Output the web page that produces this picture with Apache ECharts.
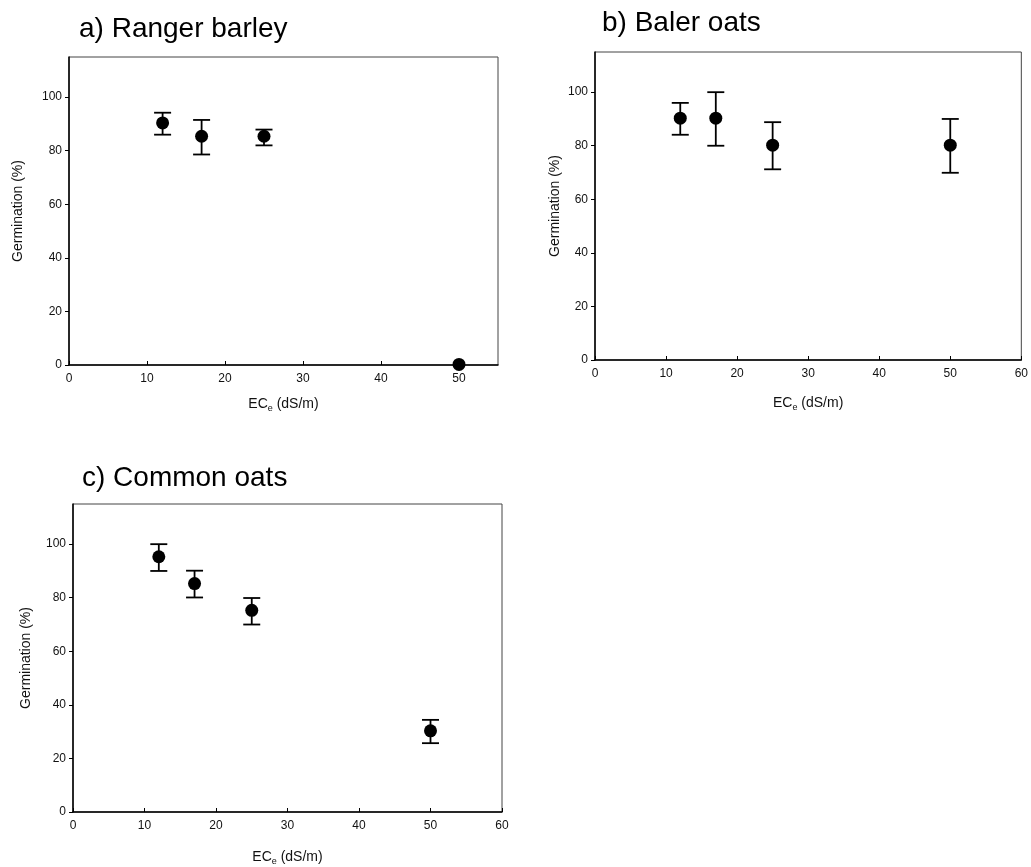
<!DOCTYPE html>
<html>
<head>
<meta charset="utf-8">
<script src="https://cdn.jsdelivr.net/npm/echarts@6/dist/echarts.min.js"></script>
<style>
  html, body { margin: 0; padding: 0; background: #fff; }
  #main { width: 1031px; height: 867px; }
</style>
</head>
<body>
<div id="main"></div>
<script>
// EC_e levels (dS/m)
const ecLevels = [12, 17, 25, 50];

// a) Ranger barley
const barleyMean = [90.4, 85.4, 85.4, 0.2];
const barleyLow = [86.0, 78.6, 82.0, null];
const barleyHigh = [94.2, 91.5, 87.9, null];

// b) Baler oats
const balerMean = [90.3, 90.3, 80.2, 80.2];
const balerLow = [84.1, 80.0, 71.2, 69.9];
const balerHigh = [96.0, 100.0, 88.8, 90.0];

// c) Common oats
const commonMean = [95.3, 85.3, 75.3, 30.3];
const commonLow = [90.0, 80.1, 70.0, 25.7];
const commonHigh = [100.0, 90.1, 79.9, 34.4];

const yTicks = [0, 20, 40, 60, 80, 100];
const xTicksA = [0, 10, 20, 30, 40, 50];
const xTicksBC = [0, 10, 20, 30, 40, 50, 60];

const panels = [
    { title: 'a) Ranger barley', mean: barleyMean, low: barleyLow, high: barleyHigh, xMax: 55, xTicks: xTicksA,
      grid: { left: 69, top: 57, width: 429, height: 308 }, titlePos: { left: 74, top: 10 }, yGap: 44, xGap: 30 },
    { title: 'b) Baler oats', mean: balerMean, low: balerLow, high: balerHigh, xMax: 60, xTicks: xTicksBC,
      grid: { left: 595, top: 52, width: 428, height: 308 }, titlePos: { left: 597, top: 4 }, yGap: 33, xGap: 34 },
    { title: 'c) Common oats', mean: commonMean, low: commonLow, high: commonHigh, xMax: 60, xTicks: xTicksBC,
      grid: { left: 73, top: 504, width: 429, height: 308 }, titlePos: { left: 77, top: 459 }, yGap: 40, xGap: 36 }
];

const chart = echarts.init(document.getElementById('main'));

const option = {
    backgroundColor: '#fff',
    animation: false,
    title: [],
    grid: [],
    xAxis: [],
    yAxis: [],
    series: []
};

panels.forEach(function (p, i) {
    option.title.push({
        text: p.title,
        left: p.titlePos.left,
        top: p.titlePos.top,
        textStyle: { fontFamily: 'Liberation Sans', fontSize: 28, fontWeight: 'normal', color: '#000' }
    });
    option.grid.push(Object.assign({
        show: true, borderColor: '#444', borderWidth: 1, backgroundColor: '#fff'
    }, p.grid));
    option.xAxis.push({
        gridIndex: i,
        type: 'value',
        min: 0,
        max: p.xMax,
        name: '{n|EC}{s|e}{n| (dS/m)}',
        nameLocation: 'middle',
        nameGap: p.xGap,
        nameTextStyle: {
            rich: {
                n: { fontFamily: 'Liberation Sans', fontSize: 14, color: '#111' },
                s: { fontFamily: 'Liberation Sans', fontSize: 9, color: '#111', verticalAlign: 'bottom', padding: [9, 0, 0, 0] }
            }
        },
        splitLine: { show: false },
        axisLine: { onZero: false, lineStyle: { color: '#000', width: 1.5 } },
        axisTick: { inside: true, length: 4, customValues: p.xTicks, lineStyle: { color: '#000', width: 1 } },
        axisLabel: { customValues: p.xTicks, margin: 8, fontFamily: 'Liberation Sans', fontSize: 12, color: '#111' }
    });
    option.yAxis.push({
        gridIndex: i,
        type: 'value',
        min: 0,
        max: 115,
        name: 'Germination (%)',
        nameLocation: 'middle',
        nameGap: p.yGap,
        nameTextStyle: { fontFamily: 'Liberation Sans', fontSize: 14, color: '#111' },
        splitLine: { show: false },
        axisLine: { onZero: false, lineStyle: { color: '#000', width: 1.5 } },
        axisTick: { inside: false, length: 4, customValues: yTicks, lineStyle: { color: '#000', width: 1 } },
        axisLabel: { customValues: yTicks, margin: 7, fontFamily: 'Liberation Sans', fontSize: 12, color: '#111' }
    });

    const barData = [];
    ecLevels.forEach(function (x, k) {
        if (p.low[k] != null) barData.push([x, p.low[k], p.high[k]]);
    });
    option.series.push({
        type: 'custom',
        xAxisIndex: i,
        yAxisIndex: i,
        data: barData,
        z: 2,
        renderItem: function (params, api) {
            const x = api.value(0);
            const lo = api.coord([x, api.value(1)]);
            const hi = api.coord([x, api.value(2)]);
            const w = 8.5;
            const style = { stroke: '#000', lineWidth: 1.8 };
            return {
                type: 'group',
                children: [
                    { type: 'line', shape: { x1: lo[0], y1: lo[1], x2: hi[0], y2: hi[1] }, style: style },
                    { type: 'line', shape: { x1: hi[0] - w, y1: hi[1], x2: hi[0] + w, y2: hi[1] }, style: style },
                    { type: 'line', shape: { x1: lo[0] - w, y1: lo[1], x2: lo[0] + w, y2: lo[1] }, style: style }
                ]
            };
        }
    });
    option.series.push({
        type: 'scatter',
        xAxisIndex: i,
        yAxisIndex: i,
        symbol: 'circle',
        symbolSize: 13,
        z: 3,
        itemStyle: { color: '#000', opacity: 1 },
        data: ecLevels.map(function (x, k) { return [x, p.mean[k]]; })
    });
});

chart.setOption(option);
</script>
</body>
</html>
